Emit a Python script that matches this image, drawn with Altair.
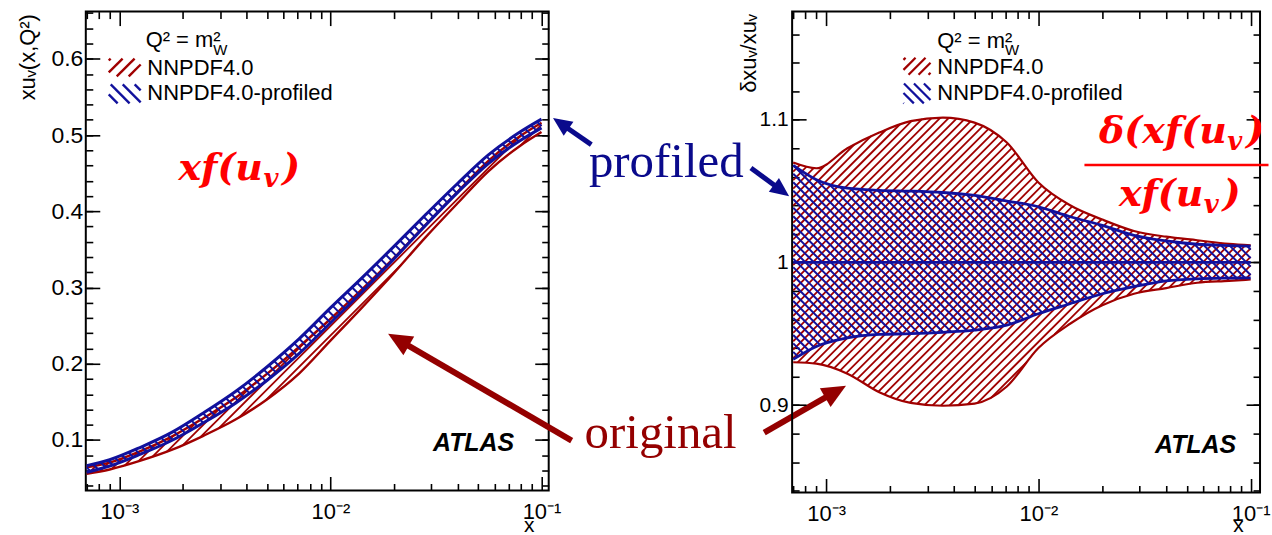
import numpy as np
import pandas as pd
import altair as alt

# ---------------- values ----------------
x_grid = [0.0007, 0.0009, 0.00126, 0.00178, 0.0025, 0.00355, 0.005, 0.0071,
          0.01, 0.0141, 0.02, 0.0282, 0.04, 0.056, 0.079, 0.1]

# left panel: central x*u_v(x, Q^2 = m_W^2)
xuv_nnpdf = [0.060, 0.066, 0.079, 0.096, 0.117, 0.141, 0.170, 0.205,
             0.245, 0.286, 0.329, 0.374, 0.418, 0.459, 0.492, 0.510]
xuv_profiled = [0.062, 0.070, 0.086, 0.105, 0.129, 0.156, 0.187, 0.223,
                0.263, 0.303, 0.345, 0.388, 0.430, 0.468, 0.498, 0.515]

# right panel: relative uncertainty band edges (delta xu_v / xu_v)
rel_nnpdf_up = [1.070, 1.066, 1.080, 1.091, 1.099, 1.1015, 1.098, 1.084,
                1.056, 1.040, 1.030, 1.022, 1.018, 1.0155, 1.013, 1.012]
rel_nnpdf_lo = [0.930, 0.929, 0.922, 0.909, 0.9015, 0.8995, 0.901, 0.913,
                0.940, 0.957, 0.970, 0.978, 0.982, 0.9857, 0.987, 0.988]
rel_prof_up = [1.068, 1.058, 1.052, 1.0505, 1.050, 1.049, 1.047, 1.043,
               1.039, 1.032, 1.026, 1.019, 1.015, 1.0127, 1.0118, 1.0114]
rel_prof_lo = [0.932, 0.941, 0.947, 0.9495, 0.950, 0.951, 0.9525, 0.956,
               0.964, 0.971, 0.978, 0.983, 0.987, 0.9885, 0.989, 0.9892]

x_tick_major = [0.001, 0.01, 0.1]
x_tick_labels = "datum.value < 0.005 ? '10\u207b\u00b3' : (datum.value < 0.05 ? '10\u207b\u00b2' : '10\u207b\u00b9')"
yL_major = [0.1, 0.2, 0.3, 0.4, 0.5, 0.6]
yR_major = [0.9, 1.0, 1.1]
series_names = ["NNPDF4.0", "NNPDF4.0-profiled"]

# ---------------- styles ----------------
RED = "#a00000"
BLUE = "#11119c"
FONT = "Liberation Sans"
MATH = "DejaVu Serif"
SERIF = "Liberation Serif"
BRIGHT = "#ff0000"

PL = dict(W=464, H=480, lx0=-3.159, lx1=-0.966, y0=0.0338, y1=0.6619)
PR = dict(W=469, H=482, lx0=-3.160, lx1=-0.956, y0=0.8387, y1=1.1758)

ONE = pd.DataFrame({"k": [0]})


def to_px(x, y, P):
    x = np.asarray(x, float)
    y = np.asarray(y, float)
    u = P["W"] * (np.log10(x) - P["lx0"]) / (P["lx1"] - P["lx0"])
    v = P["H"] * (P["y1"] - y) / (P["y1"] - P["y0"])
    return u, v


def from_px(u, v, P):
    x = 10 ** (P["lx0"] + np.asarray(u) / P["W"] * (P["lx1"] - P["lx0"]))
    y = P["y1"] - np.asarray(v) / P["H"] * (P["y1"] - P["y0"])
    return x, y


def monotone(us, vs, grid):
    """Same curve as Vega's 'monotone' interpolation, sampled on grid."""
    us = np.asarray(us, float)
    vs = np.asarray(vs, float)
    n = len(us)
    sg = lambda a: -1.0 if a < 0 else 1.0
    t = np.zeros(n)
    for i in range(1, n - 1):
        h0 = us[i] - us[i - 1]
        h1 = us[i + 1] - us[i]
        s0 = (vs[i] - vs[i - 1]) / h0
        s1 = (vs[i + 1] - vs[i]) / h1
        p = (s0 * h1 + s1 * h0) / (h0 + h1)
        t[i] = (sg(s0) + sg(s1)) * min(abs(s0), abs(s1), 0.5 * abs(p))
    t[0] = (3 * (vs[1] - vs[0]) / (us[1] - us[0]) - t[1]) / 2
    t[-1] = (3 * (vs[-1] - vs[-2]) / (us[-1] - us[-2]) - t[-2]) / 2
    k = np.clip(np.searchsorted(us, grid, side="right") - 1, 0, n - 2)
    h = us[k + 1] - us[k]
    s = (grid - us[k]) / h
    c1 = vs[k] + h * t[k] / 3
    c2 = vs[k + 1] - h * t[k + 1] / 3
    return (1 - s) ** 3 * vs[k] + 3 * (1 - s) ** 2 * s * c1 + 3 * (1 - s) * s ** 2 * c2 + s ** 3 * vs[k + 1]


def hatch_segments(u, vtop, vbot, spacing, direction):
    segs = []
    if direction > 0:
        lo, hi = (u + vtop).min(), (u + vbot).max()
    else:
        lo, hi = (vtop - u).min(), (vbot - u).max()
    c = np.floor(lo / spacing) * spacing
    while c <= hi:
        vl = c - u if direction > 0 else c + u
        inside = (vl >= vtop) & (vl <= vbot)
        ed = np.flatnonzero(np.diff(np.concatenate(([0], inside.astype(np.int8), [0]))))
        for a, b in zip(ed[::2], ed[1::2]):
            if b - a >= 3:
                segs.append((u[a], vl[a], u[b - 1], vl[b - 1]))
        c += spacing
    return segs


def band_hatch(lo_vals, hi_vals, P, spacing, direction):
    u_pts, v_hi = to_px(x_grid, hi_vals, P)
    _, v_lo = to_px(x_grid, lo_vals, P)
    grid = np.arange(u_pts[0], u_pts[-1], 0.1)
    vt = monotone(u_pts, v_hi, grid)
    vb = monotone(u_pts, v_lo, grid)
    a = np.array(hatch_segments(grid, vt, vb, spacing, direction))
    x1, y1 = from_px(a[:, 0], a[:, 1], P)
    x2, y2 = from_px(a[:, 2], a[:, 3], P)
    return pd.DataFrame({"x": x1, "y": y1, "x2": x2, "y2": y2})


def edges_df(lo_vals, hi_vals):
    n = len(x_grid)
    return pd.DataFrame({"x": list(x_grid) * 2,
                         "y": list(hi_vals) + list(lo_vals),
                         "edge": ["hi"] * n + ["lo"] * n})


def box_hatch(u0, u1, v0, v1, spacing, direction):
    grid = np.arange(u0, u1 + 1e-9, 0.1)
    segs = hatch_segments(grid, np.full_like(grid, v0), np.full_like(grid, v1), spacing, direction)
    return pd.DataFrame(segs, columns=["px", "py", "px2", "py2"])


def pix_rules(df, color, width):
    return alt.Chart(df).mark_rule(color=color, strokeWidth=width).encode(
        x=alt.X("px:Q", scale=None, axis=None), x2="px2:Q",
        y=alt.Y("py:Q", scale=None, axis=None), y2="py2:Q")


def text(t, x, y, size, color="black", font=FONT, weight="normal", style="normal",
         align="left", baseline="alphabetic"):
    kw = dict(text=t, fontSize=size, color=color, font=font, fontWeight=weight,
              fontStyle=style, align=align, baseline=baseline)
    return alt.Chart(ONE).mark_text(**kw).encode(x=alt.value(x), y=alt.value(y))


def formula(prefix, x_end, y, size, suffix, sub_w=19.5):
    """prefix ends at x_end, subscript v follows, then suffix."""
    return [
        text(prefix, x_end, y, size, color=BRIGHT, font=MATH, weight="bold", style="italic", align="right"),
        text("v", x_end + 0.5, y + 7, size * 0.68, color=BRIGHT, font=MATH, weight="bold", style="italic"),
        text(suffix, x_end + sub_w, y, size, color=BRIGHT, font=MATH, weight="bold", style="italic"),
    ]


TICK = dict(domain=False, grid=False, tickColor="black", tickWidth=1.6)


def panel(P, n_lo, n_hi, p_lo, p_hi, spacing, y_major, ylab_size, ylab_pad,
          ytitle, ytitle_x, xtitle_x, xtitle_y, lw_red, lw_blue, center, extra):
    xs = alt.Scale(type="log", domain=[10 ** P["lx0"], 10 ** P["lx1"]], nice=False)
    ys = alt.Scale(type="linear", domain=[P["y0"], P["y1"]], nice=False, zero=False)
    xlo, xhi = 10 ** P["lx0"], 10 ** P["lx1"]
    x_minor = [m * 10.0 ** e for e in (-4, -3, -2, -1) for m in range(2, 10)
               if xlo <= m * 10.0 ** e <= xhi]
    y_minor = [round(v, 2) for v in np.arange(0.0, 1.3, 0.02) if P["y0"] <= round(v, 2) <= P["y1"]]

    ax_b1 = alt.Axis(orient="bottom", values=x_tick_major, tickSize=14, offset=-14, labels=True,
                     labelExpr=x_tick_labels, labelFont=FONT, labelFontSize=22, labelPadding=11,
                     labelColor="black", labelFlush=False, labelOverlap=False,
                     title="x", titleX=xtitle_x, titleY=xtitle_y, titleAlign="center",
                     titleBaseline="bottom", titleFont=FONT, titleFontSize=21,
                     titleFontWeight="normal", titleColor="black", **TICK)
    ax_b2 = alt.Axis(orient="bottom", values=x_minor, tickSize=7, offset=-7, labels=False, title=None, **TICK)
    ax_t1 = alt.Axis(orient="top", values=x_tick_major, tickSize=14, offset=-14, labels=False, title=None, **TICK)
    ax_t2 = alt.Axis(orient="top", values=x_minor, tickSize=7, offset=-7, labels=False, title=None, **TICK)
    ax_l1 = alt.Axis(orient="left", values=y_major, tickSize=14, offset=-14, labels=True, format="~g",
                     labelFont=FONT, labelFontSize=ylab_size, labelPadding=ylab_pad, labelColor="black",
                     labelFlush=False, labelOverlap=False,
                     title=ytitle, titleAngle=270, titleX=ytitle_x, titleY=2, titleAlign="right",
                     titleBaseline="middle", titleFont=FONT, titleFontSize=22,
                     titleFontWeight="normal", titleColor="black", **TICK)
    ax_l2 = alt.Axis(orient="left", values=y_minor, tickSize=7, offset=-7, labels=False, title=None, **TICK)
    ax_r1 = alt.Axis(orient="right", values=y_major, tickSize=14, offset=-14, labels=False, title=None, **TICK)
    ax_r2 = alt.Axis(orient="right", values=y_minor, tickSize=7, offset=-7, labels=False, title=None, **TICK)

    red_h = band_hatch(n_lo, n_hi, P, spacing, +1)
    blue_h = band_hatch(p_lo, p_hi, P, spacing, -1)

    layers = [
        alt.Chart(red_h).mark_rule(color=RED, strokeWidth=1.8).encode(
            x=alt.X("x:Q", scale=xs, axis=ax_b1), x2="x2:Q",
            y=alt.Y("y:Q", scale=ys, axis=ax_l1), y2="y2:Q"),
        alt.Chart(edges_df(n_lo, n_hi)).mark_line(color=RED, strokeWidth=lw_red, interpolate="monotone").encode(
            x=alt.X("x:Q", scale=xs, axis=ax_b2), y=alt.Y("y:Q", scale=ys, axis=ax_l2), detail="edge:N"),
        alt.Chart(blue_h).mark_rule(color=BLUE, strokeWidth=2.0).encode(
            x=alt.X("x:Q", scale=xs, axis=ax_t1), x2="x2:Q",
            y=alt.Y("y:Q", scale=ys, axis=ax_r1), y2="y2:Q"),
        alt.Chart(edges_df(p_lo, p_hi)).mark_line(color=BLUE, strokeWidth=lw_blue, interpolate="monotone").encode(
            x=alt.X("x:Q", scale=xs, axis=ax_t2), y=alt.Y("y:Q", scale=ys, axis=ax_r2), detail="edge:N"),
    ]
    if center:
        layers.append(alt.Chart(ONE).mark_rule(color=BLUE, strokeWidth=2.8).encode(
            x=alt.X(datum=x_grid[0], scale=xs, axis=None), x2=alt.X2(datum=x_grid[-1]),
            y=alt.Y(datum=1.0, scale=ys, axis=None)))
    layers += extra
    return alt.layer(*layers).resolve_axis(x="independent", y="independent").properties(
        width=P["W"], height=P["H"])


# ---------------- annotations ----------------
HEAD = "M0,-1L0.9,1L-0.9,1Z"


def arrows(specs):
    rows = []
    for tx, ty, hx, hy, col, sw, head in specs:
        dx, dy = hx - tx, hy - ty
        L = np.hypot(dx, dy)
        ux, uy = dx / L, dy / L
        r = head / 2.0
        cx, cy = hx - ux * r, hy - uy * r
        rows.append(dict(tx=tx, ty=ty, cx=cx, cy=cy, col=col, sw=sw, sz=(2 * r) ** 2,
                         ang=float(np.degrees(np.arctan2(dx, -dy)) % 360)))
    df = pd.DataFrame(rows)
    shaft = alt.Chart(df).mark_rule(strokeCap="butt").encode(
        x=alt.X("tx:Q", scale=None, axis=None), y=alt.Y("ty:Q", scale=None, axis=None),
        x2="cx:Q", y2="cy:Q", color=alt.Color("col:N", scale=None),
        strokeWidth=alt.StrokeWidth("sw:Q", scale=None))
    heads = alt.Chart(df).mark_point(shape=HEAD, filled=True, opacity=1, strokeWidth=0).encode(
        x=alt.X("cx:Q", scale=None, axis=None), y=alt.Y("cy:Q", scale=None, axis=None),
        angle=alt.Angle("ang:Q", scale=None), size=alt.Size("sz:Q", scale=None),
        color=alt.Color("col:N", scale=None))
    return [shaft, heads]


AR_RED = "#940000"
AR_BLUE = "#0a0a8c"

left_extra = [
    alt.Chart(ONE).mark_rule(opacity=0, strokeWidth=1).encode(
        x=alt.value(-84.5), y=alt.value(-9.5), y2=alt.value(-5)),
    text("Q\u00b2 = m\u00b2", 60, 35.7, 22),
    text("W", 127.8, 43, 15),
    text(series_names[0], 61.7, 63.3, 22),
    text(series_names[1], 61.7, 89, 22),
    pix_rules(box_hatch(23, 55, 47, 65, 12, +1), RED, 2.4),
    pix_rules(box_hatch(23, 55, 73, 92, 12, -1), BLUE, 2.4),
    text("ATLAS", 348, 440, 25, weight="bold", style="italic"),
    text("profiled", 504.3, 166, 49, color=AR_BLUE, font=SERIF),
    text("original", 500, 437, 49, color=AR_RED, font=SERIF),
] + formula("xf(u", 177.5, 169, 38, ")") + arrows([
    (487, 430, 303, 323, AR_RED, 6, 24),
    (680, 422, 762, 375, AR_RED, 6, 24),
    (506.7, 133.3, 468.3, 106.7, AR_BLUE, 5, 19),
    (666.7, 156.7, 705, 185, AR_BLUE, 5, 19),
])

right_extra = [
    text("Q\u00b2 = m\u00b2", 145.5, 36, 22),
    text("W", 213.3, 43.3, 15),
    text(series_names[0], 145.5, 62.7, 22),
    text(series_names[1], 145.5, 89, 22),
    pix_rules(box_hatch(111.6, 138.7, 46.3, 63.4, 10, +1), RED, 2.2),
    pix_rules(box_hatch(111.6, 138.7, 72, 92, 10, -1), BLUE, 2.2),
    text("ATLAS", 363.7, 442, 25, weight="bold", style="italic"),
    alt.Chart(ONE).mark_rule(color=BRIGHT, strokeWidth=2.5).encode(
        x=alt.value(293), x2=alt.value(477.5), y=alt.value(153.8)),
] + formula("\u03b4(xf(u", 435.6, 131.6, 38, ")") + formula("xf(u", 412.2, 194.7, 38, ")")

# left panel edges = central value times the relative band
nn_lo_L = [c * r for c, r in zip(xuv_nnpdf, rel_nnpdf_lo)]
nn_hi_L = [c * r for c, r in zip(xuv_nnpdf, rel_nnpdf_up)]
pr_lo_L = [c * r for c, r in zip(xuv_profiled, rel_prof_lo)]
pr_hi_L = [c * r for c, r in zip(xuv_profiled, rel_prof_up)]

left = panel(PL, nn_lo_L, nn_hi_L, pr_lo_L, pr_hi_L, 9.5, yL_major, 23, 3,
             "xu\u1d65(x,Q\u00b2)", -72, 444, 59, 2.4, 3.0, False, left_extra)
right = panel(PR, rel_nnpdf_lo, rel_nnpdf_up, rel_prof_lo, rel_prof_up, 8.5, yR_major, 21, 4,
              "\u03b4xu\u1d65/xu\u1d65", -58, 447, 57, 2.2, 2.8, True, right_extra)

chart = alt.hconcat(left, right, spacing=244, bounds="flush").properties(
    padding={"left": 0, "top": 0, "right": 0, "bottom": 0},
    background="white",
).configure_view(stroke="black", strokeWidth=2)

chart.save("out.html", embed_options={"renderer": "svg", "actions": False})
